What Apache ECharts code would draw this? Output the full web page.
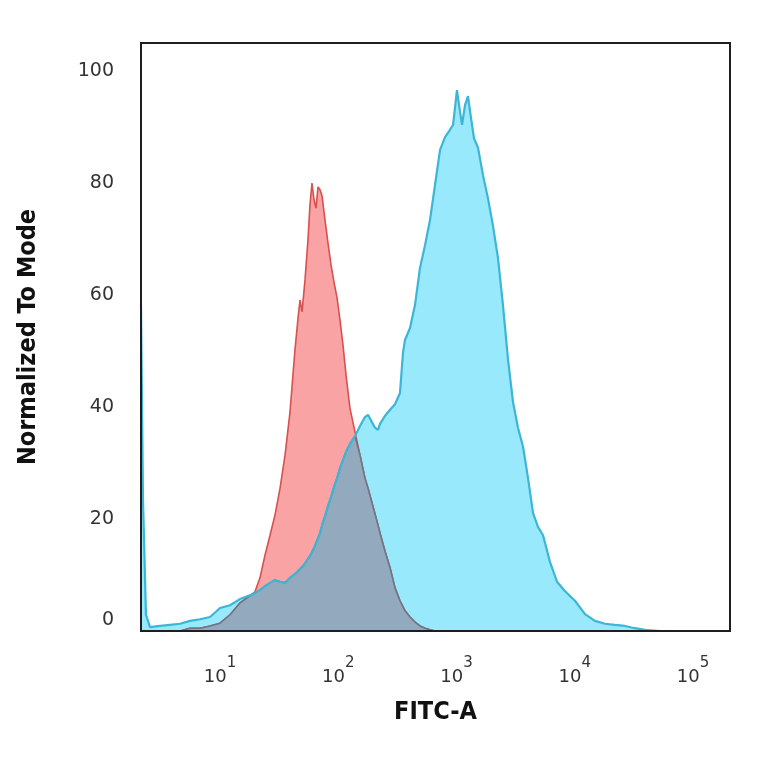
<!DOCTYPE html>
<html>
<head>
<meta charset="utf-8">
<script src="https://cdn.jsdelivr.net/npm/echarts@6/dist/echarts.min.js"></script>
<style>html,body{margin:0;padding:0;background:#fff}#c{width:764px;height:764px}</style>
</head>
<body>
<div id="c"></div>
<script>
// log10(FITC-A) bin positions
const decades = [0.332,0.349,0.374,0.408,0.493,0.577,0.662,0.746,0.831,0.916,1.000,1.085,1.169,1.254,1.296,1.338,1.381,1.423,1.465,1.508,1.550,1.592,1.634,1.660,1.677,1.694,1.719,1.744,1.761,1.778,1.795,1.812,1.829,1.846,1.863,1.888,1.913,1.939,1.964,1.990,2.015,2.040,2.066,2.099,2.142,2.184,2.226,2.252,2.285,2.311,2.336,2.353,2.395,2.438,2.480,2.522,2.548,2.565,2.607,2.649,2.691,2.734,2.776,2.818,2.861,2.903,2.945,2.971,3.004,3.030,3.047,3.072,3.097,3.123,3.148,3.182,3.224,3.266,3.309,3.351,3.393,3.436,3.478,3.520,3.563,3.605,3.647,3.689,3.732,3.791,3.850,3.918,4.002,4.087,4.171,4.256,4.340,4.425,4.509,4.594,4.721,4.890,5.059,5.313];
// stained sample (blue)
const blueCounts = [58.2,23.4,2.9,0.7,0.9,1.1,1.3,1.8,2.1,2.5,4.1,4.6,5.7,6.4,6.8,7.3,8.0,8.6,9.1,8.8,8.6,9.5,10.2,10.7,11.1,11.4,12.1,12.9,13.4,14.1,14.8,15.7,16.6,17.5,18.9,20.5,22.3,23.9,25.7,27.3,29.1,30.5,32.0,33.4,34.8,36.6,38.2,38.6,37.3,36.3,35.9,37.0,38.4,39.5,40.5,42.5,49.8,52.0,54.1,58.2,64.8,68.9,73.4,79.6,85.9,88.2,89.5,90.4,96.6,92.7,90.4,93.9,95.5,91.6,88.0,86.3,81.4,77.3,72.3,66.6,58.2,48.4,40.9,36.3,32.9,27.3,21.1,18.6,17.1,12.3,8.8,7.1,5.4,3.0,1.8,1.3,1.1,0.9,0.5,0.2,0,0,0,0];
// isotype control (red)
const redCounts = [0,0,0,0,0,0,0,0.5,0.5,0.9,1.4,2.9,5.0,6.3,7.0,9.5,13.6,17.1,20.7,25.5,31.4,39.1,50.2,55.9,59.1,57.0,62.7,69.8,76.1,80.0,77.0,75.5,79.3,78.8,77.7,73.4,69.3,65.4,62.3,59.5,55.5,51.1,45.7,39.8,35.5,31.4,27.3,25.5,22.9,20.9,18.9,17.5,14.3,11.3,7.7,5.4,4.3,3.6,2.5,1.6,0.9,0.5,0.2,0,0,0,0,0,0,0,0,0,0,0,0,0,0,0,0,0,0,0,0,0,0,0,0,0,0,0,0,0,0,0,0,0,0,0,0,0,0,0,0,0];
const xTickDecades = [1,2,3,4,5];
const yTicks = [0,20,40,60,80,100];

const pairs = arr => decades.map((d,i) => [d, arr[i]]);
const overlap = decades.map((d,i) => [d, Math.min(blueCounts[i], redCounts[i])]);

const titleFont = "'DejaVu Sans Condensed', 'Liberation Sans', sans-serif";
const chart = echarts.init(document.getElementById('c'), null, {renderer:'canvas'});
chart.setOption({
  animation: false,
  backgroundColor: '#fff',
  grid: {left:141, top:43, right:34, bottom:133, show:true, borderColor:'#1e1e1e', borderWidth:2, backgroundColor:'transparent'},
  xAxis: {
    type:'value', min:0.332, max:5.313, z:10,
    name:'FITC-A', nameLocation:'middle', nameGap:69,
    nameTextStyle:{fontFamily:titleFont, fontWeight:'bold', fontSize:25, color:'#111'},
    axisLine:{show:true, onZero:false, lineStyle:{color:'#1e1e1e', width:2}},
    axisTick:{show:false},
    splitLine:{show:false},
    axisLabel:{
      customValues: xTickDecades,
      margin:25,
      formatter: v => '{b|10}{s|' + Math.round(v) + '}',
      rich:{
        b:{fontFamily:'DejaVu Sans', fontSize:18, color:'#333', lineHeight:30, verticalAlign:'bottom'},
        s:{fontFamily:'DejaVu Sans', fontSize:15, color:'#333', lineHeight:15, verticalAlign:'top'}
      }
    }
  },
  yAxis: {
    type:'value', min:0, max:105, interval:20, z:10,
    name:'Normalized To Mode', nameLocation:'middle', nameGap:100,
    nameTextStyle:{fontFamily:titleFont, fontWeight:'bold', fontSize:25, color:'#111'},
    axisLine:{show:true, lineStyle:{color:'#1e1e1e', width:2}},
    axisTick:{show:false},
    splitLine:{show:false},
    axisLabel:{
      showMaxLabel:false, margin:27,
      formatter: v => (yTicks.indexOf(v) < 0 ? '' : (v === 0 ? '{z|0}' : '{n|' + v + '}')),
      rich:{
        n:{fontFamily:'DejaVu Sans', fontSize:19, color:'#333'},
        z:{fontFamily:'DejaVu Sans', fontSize:19, color:'#333', padding:[0,0,22,0]}
      }
    }
  },
  series: [
    {type:'line', name:'stained', data:pairs(blueCounts), symbol:'none', z:2,
     lineStyle:{width:0}, areaStyle:{color:'#97e9fb', opacity:1}},
    {type:'line', name:'isotype', data:pairs(redCounts), symbol:'none', z:3,
     lineStyle:{color:'#d8504f', width:1.6}, areaStyle:{color:'#f9a3a5', opacity:1}},
    {type:'line', name:'overlap', data:overlap, symbol:'none', z:4,
     lineStyle:{color:'#6c7684', width:1.6}, areaStyle:{color:'#93a9bd', opacity:1}},
    {type:'line', name:'stainedLine', data:pairs(blueCounts), symbol:'none', z:5,
     lineStyle:{color:'#3db5d6', width:2.2}}
  ]
});
</script>
</body>
</html>
